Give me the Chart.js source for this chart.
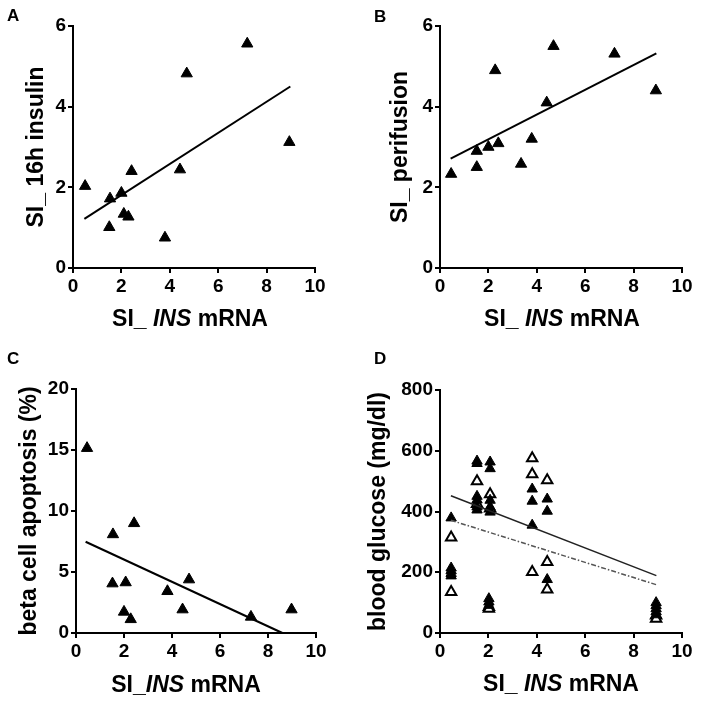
<!DOCTYPE html>
<html><head><meta charset="utf-8">
<script src="https://cdn.jsdelivr.net/npm/chart.js@4.4.0/dist/chart.umd.min.js"></script>
<style>
html,body{margin:0;padding:0;background:#fff;}
#wrap{position:relative;width:704px;height:702px;overflow:hidden;}
.panel{position:absolute;width:352px;height:351px;}
.lbl{position:absolute;font:bold 17px Arial,'Liberation Sans',sans-serif;line-height:17px;color:#000;}
</style></head><body>
<div id="wrap">
  <div class="panel" style="left:0;top:0"><canvas id="cA" width="352" height="351"></canvas></div>
  <div class="panel" style="left:352px;top:0"><canvas id="cB" width="352" height="351"></canvas></div>
  <div class="panel" style="left:0;top:351px"><canvas id="cC" width="352" height="351"></canvas></div>
  <div class="panel" style="left:352px;top:351px"><canvas id="cD" width="352" height="351"></canvas></div>
  <div class="lbl" style="left:7px;top:7px">A</div>
  <div class="lbl" style="left:374px;top:8px">B</div>
  <div class="lbl" style="left:7px;top:350px">C</div>
  <div class="lbl" style="left:374px;top:350px">D</div>
</div>
<script>
// ---- data ----
const xTicksMax = 10;
// Panel A: SI_16h insulin vs SI_INS mRNA
const aX = [0.5, 1.53, 1.5, 2.0, 2.1, 2.29, 2.42, 3.8, 4.42, 4.7, 7.2, 8.94];
const aY = [2.03, 1.72, 1.01, 1.86, 1.34, 1.27, 2.40, 0.75, 2.44, 4.82, 5.56, 3.12];
const aFitX = [0.47, 8.98];
const aFitY = [1.22, 4.50];
// Panel B: SI_perifusion
const bX = [0.46, 1.52, 1.52, 2.0, 2.28, 2.41, 3.35, 3.79, 4.41, 4.69, 7.21, 8.92];
const bY = [2.33, 2.90, 2.50, 3.00, 4.90, 3.09, 2.58, 3.20, 4.10, 5.50, 5.31, 4.40];
const bFitX = [0.44, 8.94];
const bFitY = [2.71, 5.32];
// Panel C: beta cell apoptosis (%)
const cX = [0.46, 1.54, 1.52, 2.0, 2.07, 2.28, 2.42, 3.81, 4.44, 4.71, 7.29, 8.98];
const cY = [15.15, 8.08, 4.05, 1.73, 4.14, 1.12, 8.99, 3.42, 1.92, 4.38, 1.32, 1.92];
const cFitX = [0.4, 8.6];
const cFitY = [7.48, 0];
// Panel D: blood glucose (mg/dl)
const dFilledX = [0.46,0.46,0.46,0.46,0.46, 1.53,1.53,1.53,1.53,1.53,1.53, 2.07,2.07,2.07,2.07,2.07, 2.02,2.02,2.02, 3.81,3.81,3.81, 4.43,4.43,4.43, 8.93,8.93,8.93,8.93,8.93];
const dFilledY = [379,214,205,196,188, 566,558,450,438,415,405, 563,541,437,415,398, 113,102,91, 474,434,355, 441,401,176, 100,90,80,70,60];
const dOpenX = [0.46,0.46, 1.53,1.53, 2.07,2.07, 2.02,2.02, 3.81,3.81,3.81, 4.43,4.43,4.43, 8.93,8.93];
const dOpenY = [314,135, 500,425, 457,410, 86,80, 575,523,201, 503,234,143, 58,47];
const dFitSolidX = [0.45, 8.94];
const dFitSolidY = [452, 189];
const dFitDashX = [0.45, 8.94];
const dFitDashY = [371, 159];

const FAM = "Arial, 'Liberation Sans', sans-serif";
const pts = (xs, ys) => xs.map((x, i) => ({x, y: ys[i]}));

function filledTri(xs, ys, r) {
  return {type:'scatter', data: pts(xs, ys), pointStyle:'triangle', pointRadius:r, pointHoverRadius:r,
    backgroundColor:'#000', borderColor:'#000', borderWidth:1, order:2};
}
function openTri(xs, ys, r) {
  return {type:'scatter', data: pts(xs, ys), pointStyle:'triangle', pointRadius:r, pointHoverRadius:r,
    backgroundColor:'#fff', borderColor:'#000', borderWidth:2, order:3};
}
function fitLine(xs, ys, color, width, dash) {
  return {type:'line', data: pts(xs, ys), borderColor:color, borderWidth:width, borderDash:dash||[],
    pointRadius:0, showLine:true, fill:false, order:1};
}

const xTitlePlugin = {
  id:'xTitle',
  afterDraw(chart) {
    const o = chart.options.plugins.xTitle;
    const ctx = chart.ctx;
    ctx.save();
    ctx.fillStyle = '#000';
    ctx.textBaseline = 'alphabetic';
    let total = 0;
    const widths = o.parts.map(p => {
      ctx.font = (p.italic ? 'italic ' : '') + 'bold ' + o.size + 'px ' + FAM;
      const w = ctx.measureText(p.text).width; total += w; return w;
    });
    let x = o.cx - total / 2;
    o.parts.forEach((p, i) => {
      ctx.font = (p.italic ? 'italic ' : '') + 'bold ' + o.size + 'px ' + FAM;
      ctx.fillText(p.text, x, o.baseline);
      x += widths[i];
    });
    ctx.restore();
  }
};

function panel(id, o) {
  const W = 352, H = 351;
  const tickFont = {family: FAM, size: 19, weight: 'bold'};
  new Chart(document.getElementById(id), {
    type: 'scatter',
    data: {datasets: o.datasets},
    options: {
      responsive: false, animation: false, maintainAspectRatio: false,
      clip: false,
      layout: {padding: {left: 0, top: o.area.top, right: W - o.area.right, bottom: 0}},
      plugins: {legend: {display: false}, tooltip: {enabled: false},
        xTitle: {parts: o.xParts, cx: o.xTitleCx, baseline: o.xTitleBase, size: 23}},
      scales: {
        x: {type: 'linear', min: 0, max: xTicksMax,
          ticks: {stepSize: 2, font: tickFont, color: '#000', padding: 2, maxRotation: 0},
          grid: {display: true, drawOnChartArea: false, drawTicks: true, tickLength: 5, color: '#000', lineWidth: 2},
          border: {display: true, color: '#000', width: 2},
          title: {display: false},
          afterFit: s => { s.height = H - o.area.bottom; }
        },
        y: {type: 'linear', min: 0, max: o.yMax,
          ticks: {stepSize: o.yStep, font: tickFont, color: '#000', padding: 2},
          grid: {display: true, drawOnChartArea: false, drawTicks: true, tickLength: 5, color: '#000', lineWidth: 2},
          border: {display: true, color: '#000', width: 2},
          title: {display: true, text: o.yTitle, color: '#000',
            font: {family: FAM, size: 23, weight: 'bold', lineHeight: 1},
            padding: {top: o.yTitleMid - 11.5, bottom: 0}},
          afterFit: s => { s.width = o.area.left; }
        }
      }
    },
    plugins: [xTitlePlugin]
  });
}

const xSp = [{text:'SI_ '}, {text:'INS', italic:true}, {text:' mRNA'}];
const xNs = [{text:'SI_'}, {text:'INS', italic:true}, {text:' mRNA'}];

panel('cA', {area:{left:73, right:315, top:26, bottom:268}, yMax:6, yStep:2, yTitle:'SI_ 16h insulin', yTitleMid:37,
  xParts:xSp, xTitleCx:190, xTitleBase:326,
  datasets:[fitLine(aFitX, aFitY, '#000', 2), filledTri(aX, aY, 6.5)]});
panel('cB', {area:{left:88, right:330, top:26, bottom:268}, yMax:6, yStep:2, yTitle:'SI_ perifusion', yTitleMid:49,
  xParts:xSp, xTitleCx:210, xTitleBase:326,
  datasets:[fitLine(bFitX, bFitY, '#000', 2), filledTri(bX, bY, 6.5)]});
panel('cC', {area:{left:76, right:316, top:38, bottom:282}, yMax:20, yStep:5, yTitle:'beta cell apoptosis (%)', yTitleMid:30,
  xParts:xNs, xTitleCx:186, xTitleBase:341,
  datasets:[fitLine(cFitX, cFitY, '#000', 2), filledTri(cX, cY, 6.5)]});
panel('cD', {area:{left:88, right:330, top:39, bottom:282}, yMax:800, yStep:200, yTitle:'blood glucose (mg/dl)', yTitleMid:27,
  xParts:xSp, xTitleCx:209, xTitleBase:340,
  datasets:[fitLine(dFitSolidX, dFitSolidY, '#222', 1.5), fitLine(dFitDashX, dFitDashY, '#555', 1.5, [5,2,1.5,2]),
    filledTri(dFilledX, dFilledY, 6), openTri(dOpenX, dOpenY, 6)]});
</script>
</body></html>
